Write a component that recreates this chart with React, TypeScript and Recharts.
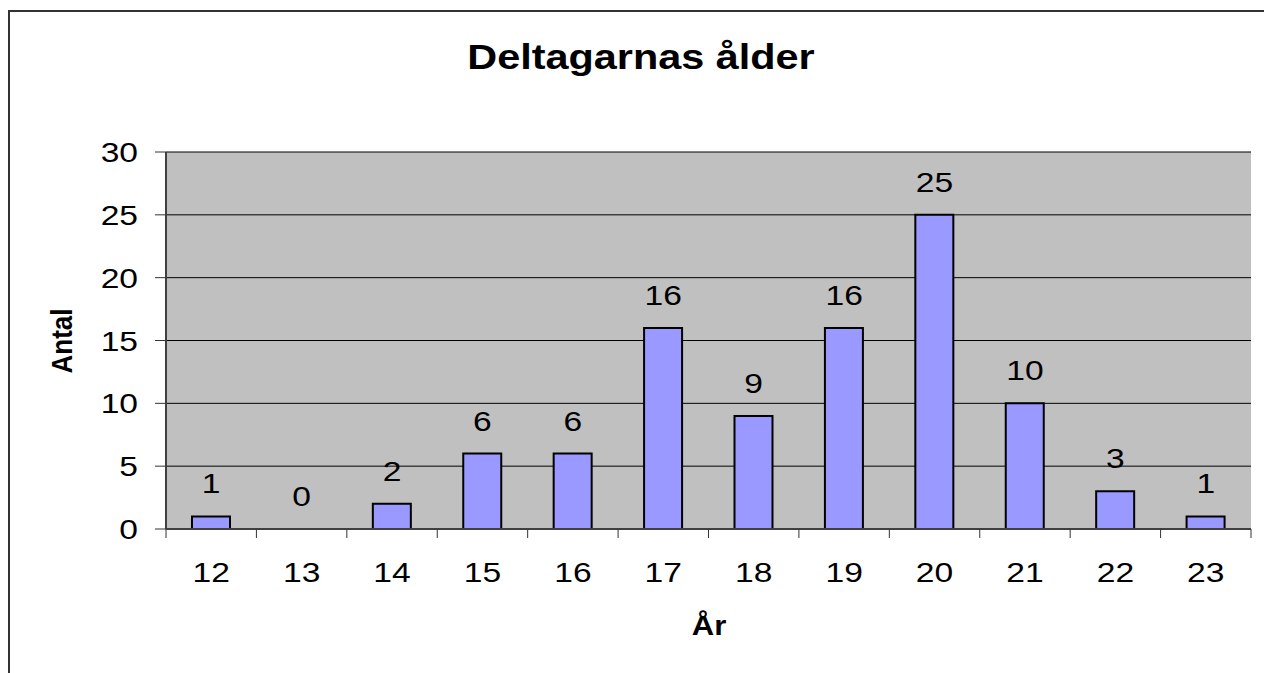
import { ComposedChart, Bar, Line, XAxis, YAxis, CartesianGrid, LabelList } from 'recharts';

const ages = ['12', '13', '14', '15', '16', '17', '18', '19', '20', '21', '22', '23'];
const counts = [1, 0, 2, 6, 6, 16, 9, 16, 25, 10, 3, 1];
const yTicks = [0, 5, 10, 15, 20, 25, 30];

const title = 'Deltagarnas ålder';
const xTitle = 'År';
const yTitle = 'Antal';

const data = ages.map((age, i) => ({ age, count: counts[i] }));

const FONT = '"Liberation Sans", Arial, sans-serif';
const W = 1254;
const H = 661;
const MARGIN = { top: 140, right: 13, bottom: 84, left: 96 };
const Y_AXIS_W = 60;
const PLOT_W = W - MARGIN.left - MARGIN.right - Y_AXIS_W;
const BAND = PLOT_W / ages.length;

function YTick(props: any) {
  const { x, y, payload } = props;
  return (
    <text
      transform={`translate(${x},${y}) scale(1.2,1)`}
      textAnchor="end"
      dy="0.36em"
      fontSize={28}
      fontFamily={FONT}
      fill="#000"
    >
      {payload.value}
    </text>
  );
}

function XTick(props: any) {
  const { x, y, payload, index } = props;
  const left = x - BAND / 2;
  const right = x + BAND / 2;
  return (
    <g>
      <line x1={left} x2={left} y1={y} y2={y + 9} stroke="#333" />
      {index === ages.length - 1 && <line x1={right} x2={right} y1={y} y2={y + 9} stroke="#333" />}
      <text
        transform={`translate(${x},${y + 53}) scale(1.2,1)`}
        textAnchor="middle"
        fontSize={28}
        fontFamily={FONT}
        fill="#000"
      >
        {payload.value}
      </text>
    </g>
  );
}

// value labels sit above each bar top (drawn on an invisible line through the bar tops)
function BarValue(props: any) {
  const { x, y, value } = props;
  return (
    <text
      transform={`translate(${x},${y - 23}) scale(1.2,1)`}
      textAnchor="middle"
      fontSize={28}
      fontFamily={FONT}
      fill="#000"
    >
      {value}
    </text>
  );
}

export default function App() {
  return (
    <div
      style={{
        position: 'fixed',
        left: 8,
        top: 10,
        width: W + 2,
        height: H + 2,
        boxSizing: 'border-box',
        borderLeft: '2px solid #333',
        borderTop: '2px solid #333',
        background: '#fff',
        overflow: 'hidden',
      }}
    >
      <ComposedChart width={W} height={H} data={data} margin={MARGIN}>
        <CartesianGrid vertical={false} stroke="#000" strokeWidth={1} fill="#C0C0C0" />
        <XAxis
          dataKey="age"
          interval={0}
          height={60}
          tickSize={0}
          tickMargin={0}
          tickLine={false}
          axisLine={{ stroke: '#404040', strokeWidth: 2 }}
          tick={<XTick />}
        />
        <XAxis
          xAxisId="top"
          orientation="top"
          height={0}
          tick={false}
          tickLine={false}
          axisLine={{ stroke: '#808080', strokeWidth: 2 }}
        />
        <YAxis
          width={Y_AXIS_W}
          domain={[0, 30]}
          ticks={yTicks}
          interval={0}
          tickSize={11}
          tickMargin={17}
          tickLine={{ stroke: '#333' }}
          axisLine={{ stroke: '#404040', strokeWidth: 2 }}
          tick={<YTick />}
        />
        <YAxis
          yAxisId="right"
          orientation="right"
          width={0}
          tick={false}
          tickLine={false}
          axisLine={{ stroke: '#808080', strokeWidth: 3 }}
        />
        <Bar dataKey="count" fill="#9999FF" stroke="#000" strokeWidth={2} barSize={38} isAnimationActive={false} />
        <Line
          dataKey="count"
          stroke="none"
          dot={false}
          activeDot={false}
          legendType="none"
          isAnimationActive={false}
        >
          <LabelList dataKey="count" content={<BarValue />} />
        </Line>
      </ComposedChart>
      <svg
        width={W}
        height={H}
        style={{ position: 'absolute', left: 0, top: 0, pointerEvents: 'none' }}
      >
        <text
          transform="translate(631,57) scale(1.15,1)"
          textAnchor="middle"
          fontSize={36}
          fontWeight="bold"
          fontFamily={FONT}
          fill="#000"
        >
          {title}
        </text>
        <text
          transform="translate(62,329) scale(1.15,1) rotate(-90)"
          textAnchor="middle"
          fontSize={26}
          fontWeight="bold"
          fontFamily={FONT}
          fill="#000"
        >
          {yTitle}
        </text>
        <text
          transform="translate(699,623) scale(1.15,1)"
          textAnchor="middle"
          fontSize={27}
          fontWeight="bold"
          fontFamily={FONT}
          fill="#000"
        >
          {xTitle}
        </text>
      </svg>
    </div>
  );
}
